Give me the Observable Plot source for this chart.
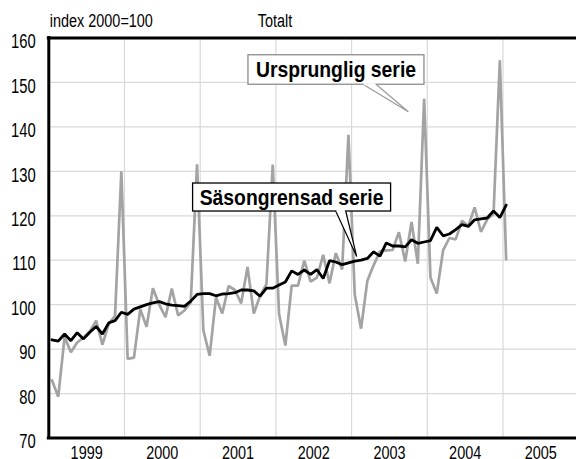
<!DOCTYPE html>
<html><head><meta charset="utf-8">
<script src="https://cdn.jsdelivr.net/npm/d3@7"></script>
<script src="https://cdn.jsdelivr.net/npm/@observablehq/plot@0.6"></script>
<style>
html,body{margin:0;padding:0;background:#fff;}
#chart{width:576px;height:459px;overflow:hidden;}
</style></head><body><div id="chart"></div>
<script>
// Monthly series, Jan 1999 – Jan 2005 (index 2000=100)
const startYear = 1999;
const original = [
  83.0, 79.3, 92.7, 89.3, 91.5, 92.6, 94.0, 96.4, 91.0, 95.7, 97.5, 130.0,
  87.8, 88.1, 99.0, 95.0, 103.7, 100.0, 97.2, 103.6, 97.6, 98.7, 100.5, 131.6,
  94.2, 88.5, 101.6, 98.0, 104.2, 103.3, 100.3, 108.5, 98.0, 102.0, 104.6, 131.5,
  97.9, 90.8, 104.3, 104.3, 109.9, 105.2, 106.1, 111.2, 104.8, 111.6, 107.9, 138.2,
  102.3, 94.6, 105.4, 108.9, 112.0, 112.2, 112.3, 116.3, 109.7, 118.6, 109.2, 146.3,
  106.1, 102.5, 112.2, 115.0, 114.7, 118.9, 117.7, 121.9, 116.4, 119.2, 120.4, 155.0,
  110.2
];
const seasonal = [
  92.1, 91.8, 93.4, 91.9, 93.7, 92.3, 93.8, 95.1, 93.4, 95.9, 96.4, 98.3,
  97.8, 99.0, 99.5, 100.0, 100.4, 100.7, 100.2, 99.9, 99.8, 99.6, 100.8, 102.3,
  102.5, 102.5, 102.0, 102.4, 102.5, 102.7, 103.3, 103.3, 103.1, 101.9, 103.7, 103.7,
  104.4, 105.1, 107.6, 106.8, 107.8, 106.8, 107.9, 105.9, 109.9, 109.6, 109.0, 109.4,
  109.8, 110.0, 110.4, 111.9, 110.9, 113.9, 113.2, 113.2, 113.0, 114.6, 113.8, 114.1,
  114.4, 117.4, 115.5, 115.9, 116.9, 118.0, 117.6, 119.1, 119.3, 119.5, 121.1, 119.6,
  122.4
];
const yTicks = [70, 80, 90, 100, 110, 120, 130, 140, 150, 160];
const yearLabels = [1999, 2000, 2001, 2002, 2003, 2004, 2005];
const unitLabel = "index 2000=100";
const titleLabel = "Totalt";
const annotationLabels = ["Ursprunglig serie", "Säsongrensad serie"];

const FONT = "'Liberation Sans Narrow','Arial Narrow','Liberation Sans',Arial,sans-serif";
const toRows = arr => arr.map((v, i) => ({t: startYear + (i + 0.5) / 12, v}));

const chart = Plot.plot({
  width: 576,
  height: 459,
  marginLeft: 48.3,
  marginRight: 0,
  marginTop: 37.5,
  marginBottom: 21.5,
  style: {fontFamily: FONT, fontSize: "19px", background: "#fff", overflow: "hidden"},
  x: {domain: [startYear, 2005.971], axis: null},
  y: {domain: [70, 160], axis: null},
  marks: [
    Plot.ruleY(yTicks.slice(1, -1), {stroke: "#d9d9d9", strokeWidth: 1.2}),
    Plot.ruleX(yearLabels.slice(1), {stroke: "#d9d9d9", strokeWidth: 1.2}),
    Plot.line(toRows(original), {x: "t", y: "v", stroke: "#a3a3a3", strokeWidth: 2.7, strokeLinejoin: "miter"}),
    Plot.line(toRows(seasonal), {x: "t", y: "v", stroke: "#000", strokeWidth: 2.8, strokeLinejoin: "miter"}),
    Plot.ruleX([startYear], {stroke: "#000", strokeWidth: 3, strokeLinecap: "square"}),
    Plot.ruleY([70, 160], {stroke: "#000", strokeWidth: 3, strokeLinecap: "square"}),
    Plot.text(yTicks, {x: startYear, y: d => d, text: d => String(d), dx: -13, dy: 4, textAnchor: "end", fontSize: 19.5, fill: "#000"}),
    Plot.text(yearLabels, {x: d => d + 0.5, y: 70, text: d => String(d), dy: 8, lineAnchor: "top", textAnchor: "middle", fontSize: 19, fill: "#000"}),
    Plot.text([unitLabel], {frameAnchor: "top-left", dx: 1, dy: -17, lineAnchor: "middle", textAnchor: "start", fontSize: 19, fill: "#000"}),
    Plot.text([titleLabel], {frameAnchor: "top-left", dx: 209, dy: -17, lineAnchor: "middle", textAnchor: "start", fontSize: 19, fill: "#000"})
  ]
});
document.getElementById("chart").appendChild(chart);

const svgNode = chart.tagName.toLowerCase() === "svg" ? chart : chart.querySelector("svg");
const svg = d3.select(svgNode);

// Condense the plain text (narrow typeface look)
svg.selectAll("text").each(function () {
  const el = d3.select(this);
  const tr = el.attr("transform");
  if (tr) {
    el.attr("transform", tr + " scale(0.76,1)");
  } else {
    const x = +el.attr("x") || 0, y = +el.attr("y") || 0;
    el.attr("x", null).attr("y", null).attr("transform", `translate(${x},${y}) scale(0.76,1)`);
  }
});

// Callout annotations (box center and pointer tip in data coordinates)
const annotations = [
  {label: annotationLabels[0], boxX: 2002.80, boxY: 152.8, w: 176, h: 29.5,
   tipX: 2003.756, tipY: 143.3, base: [27, 40], stroke: "#8c8c8c", lineStroke: "#9a9a9a"},
  {label: annotationLabels[1], boxX: 2002.214, boxY: 124.11, w: 198, h: 28,
   tipX: 2003.074, tipY: 110.72, base: [44.1, 54.1], stroke: "#000", lineStroke: "#000"}
];
const sx = chart.scale("x").apply, sy = chart.scale("y").apply;
const g = svg.append("g");
for (const a of annotations) {
  const cx = sx(a.boxX), cy = sy(a.boxY);
  const tx = sx(a.tipX), ty = sy(a.tipY);
  const left = cx - a.w / 2, top = cy - a.h / 2, bottom = cy + a.h / 2;
  g.append("rect").attr("x", left).attr("y", top).attr("width", a.w).attr("height", a.h)
    .attr("fill", "#fff").attr("stroke", a.stroke).attr("stroke-width", 1.3);
  const b1 = cx + a.base[0], b2 = cx + a.base[1];
  g.append("path").attr("d", `M${b1},${bottom}L${tx},${ty}L${b2},${bottom}`)
    .attr("fill", "#fff").attr("stroke", a.lineStroke).attr("stroke-width", 1.2);
  g.append("line").attr("x1", b1 + 0.8).attr("x2", b2 - 0.8).attr("y1", bottom).attr("y2", bottom)
    .attr("stroke", "#fff").attr("stroke-width", 2);
  g.append("text").attr("transform", `translate(${cx},${cy}) scale(0.9,1)`).attr("dy", "0.36em")
    .attr("text-anchor", "middle")
    .attr("font-family", FONT).attr("font-weight", "bold").attr("font-size", 21.5).attr("fill", "#000")
    .text(a.label);
}
</script></body></html>
